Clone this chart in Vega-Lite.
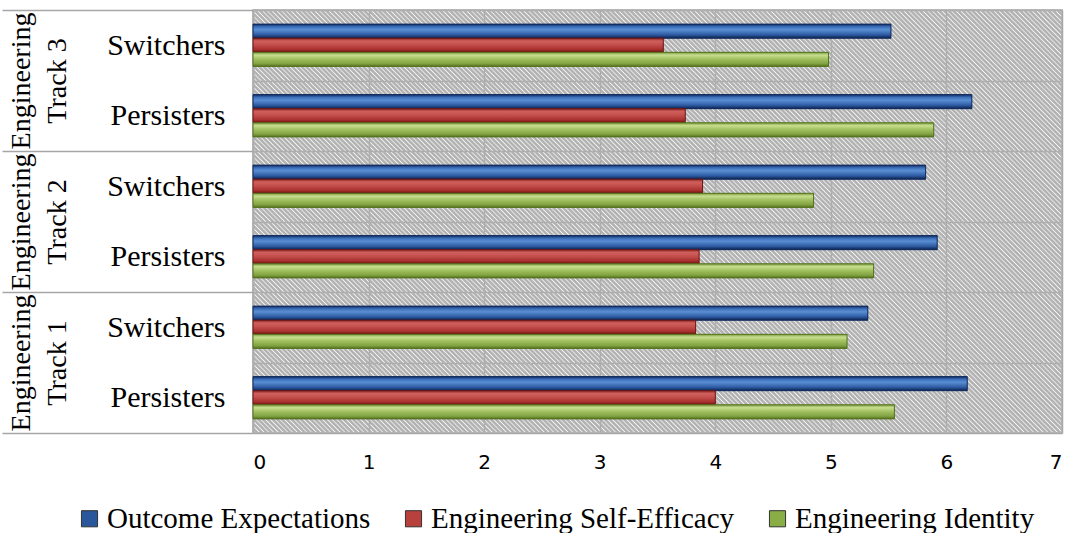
{
  "$schema": "https://vega.github.io/schema/vega-lite/v6.json",
  "width": 809,
  "height": 423,
  "autosize": "none",
  "padding": {"left": 253, "top": 10, "right": 6, "bottom": 100},
  "config": {
    "view": {"stroke": "#a6a6a6", "strokeWidth": 1.5, "fill": "#ffffff"},
    "font": "Liberation Serif"
  },
  "data": {
    "values": [
      {"track": "Engineering Track 3", "group": "Switchers", "cat": "Track 3|Switchers", "measure": "Outcome Expectations", "value": 5.52},
      {"track": "Engineering Track 3", "group": "Switchers", "cat": "Track 3|Switchers", "measure": "Engineering Self-Efficacy", "value": 3.55},
      {"track": "Engineering Track 3", "group": "Switchers", "cat": "Track 3|Switchers", "measure": "Engineering Identity", "value": 4.98},
      {"track": "Engineering Track 3", "group": "Persisters", "cat": "Track 3|Persisters", "measure": "Outcome Expectations", "value": 6.22},
      {"track": "Engineering Track 3", "group": "Persisters", "cat": "Track 3|Persisters", "measure": "Engineering Self-Efficacy", "value": 3.74},
      {"track": "Engineering Track 3", "group": "Persisters", "cat": "Track 3|Persisters", "measure": "Engineering Identity", "value": 5.89},
      {"track": "Engineering Track 2", "group": "Switchers", "cat": "Track 2|Switchers", "measure": "Outcome Expectations", "value": 5.82},
      {"track": "Engineering Track 2", "group": "Switchers", "cat": "Track 2|Switchers", "measure": "Engineering Self-Efficacy", "value": 3.89},
      {"track": "Engineering Track 2", "group": "Switchers", "cat": "Track 2|Switchers", "measure": "Engineering Identity", "value": 4.85},
      {"track": "Engineering Track 2", "group": "Persisters", "cat": "Track 2|Persisters", "measure": "Outcome Expectations", "value": 5.92},
      {"track": "Engineering Track 2", "group": "Persisters", "cat": "Track 2|Persisters", "measure": "Engineering Self-Efficacy", "value": 3.86},
      {"track": "Engineering Track 2", "group": "Persisters", "cat": "Track 2|Persisters", "measure": "Engineering Identity", "value": 5.37},
      {"track": "Engineering Track 1", "group": "Switchers", "cat": "Track 1|Switchers", "measure": "Outcome Expectations", "value": 5.32},
      {"track": "Engineering Track 1", "group": "Switchers", "cat": "Track 1|Switchers", "measure": "Engineering Self-Efficacy", "value": 3.83},
      {"track": "Engineering Track 1", "group": "Switchers", "cat": "Track 1|Switchers", "measure": "Engineering Identity", "value": 5.14},
      {"track": "Engineering Track 1", "group": "Persisters", "cat": "Track 1|Persisters", "measure": "Outcome Expectations", "value": 6.18},
      {"track": "Engineering Track 1", "group": "Persisters", "cat": "Track 1|Persisters", "measure": "Engineering Self-Efficacy", "value": 4.0},
      {"track": "Engineering Track 1", "group": "Persisters", "cat": "Track 1|Persisters", "measure": "Engineering Identity", "value": 5.55}
    ]
  },
  "layer": [
    {
      "mark": {
        "type": "rect",
        "fillOpacity": 0.6,
        "fill": {"gradient": "linear", "x1": 0, "y1": 1, "x2": 1.1397, "y2": 0.80136, "stops": [
          {"offset":0,"color":"#b0b0b0"},{"offset":0.0025,"color":"#b0b0b000"},{"offset":0.005,"color":"#b0b0b0"},{"offset":0.0075,"color":"#b0b0b000"},
          {"offset":0.01,"color":"#b0b0b0"},{"offset":0.0125,"color":"#b0b0b000"},{"offset":0.015,"color":"#b0b0b0"},{"offset":0.0175,"color":"#b0b0b000"},
          {"offset":0.02,"color":"#b0b0b0"},{"offset":0.0225,"color":"#b0b0b000"},{"offset":0.025,"color":"#b0b0b0"},{"offset":0.0275,"color":"#b0b0b000"},
          {"offset":0.03,"color":"#b0b0b0"},{"offset":0.0325,"color":"#b0b0b000"},{"offset":0.035,"color":"#b0b0b0"},{"offset":0.0375,"color":"#b0b0b000"},
          {"offset":0.04,"color":"#b0b0b0"},{"offset":0.0425,"color":"#b0b0b000"},{"offset":0.045,"color":"#b0b0b0"},{"offset":0.0475,"color":"#b0b0b000"},
          {"offset":0.05,"color":"#b0b0b0"},{"offset":0.0525,"color":"#b0b0b000"},{"offset":0.055,"color":"#b0b0b0"},{"offset":0.0575,"color":"#b0b0b000"},
          {"offset":0.06,"color":"#b0b0b0"},{"offset":0.0625,"color":"#b0b0b000"},{"offset":0.065,"color":"#b0b0b0"},{"offset":0.0675,"color":"#b0b0b000"},
          {"offset":0.07,"color":"#b0b0b0"},{"offset":0.0725,"color":"#b0b0b000"},{"offset":0.075,"color":"#b0b0b0"},{"offset":0.0775,"color":"#b0b0b000"},
          {"offset":0.08,"color":"#b0b0b0"},{"offset":0.0825,"color":"#b0b0b000"},{"offset":0.085,"color":"#b0b0b0"},{"offset":0.0875,"color":"#b0b0b000"},
          {"offset":0.09,"color":"#b0b0b0"},{"offset":0.0925,"color":"#b0b0b000"},{"offset":0.095,"color":"#b0b0b0"},{"offset":0.0975,"color":"#b0b0b000"},
          {"offset":0.10,"color":"#b0b0b0"},{"offset":0.1025,"color":"#b0b0b000"},{"offset":0.105,"color":"#b0b0b0"},{"offset":0.1075,"color":"#b0b0b000"},
          {"offset":0.11,"color":"#b0b0b0"},{"offset":0.1125,"color":"#b0b0b000"},{"offset":0.115,"color":"#b0b0b0"},{"offset":0.1175,"color":"#b0b0b000"},
          {"offset":0.12,"color":"#b0b0b0"},{"offset":0.1225,"color":"#b0b0b000"},{"offset":0.125,"color":"#b0b0b0"},{"offset":0.1275,"color":"#b0b0b000"},
          {"offset":0.13,"color":"#b0b0b0"},{"offset":0.1325,"color":"#b0b0b000"},{"offset":0.135,"color":"#b0b0b0"},{"offset":0.1375,"color":"#b0b0b000"},
          {"offset":0.14,"color":"#b0b0b0"},{"offset":0.1425,"color":"#b0b0b000"},{"offset":0.145,"color":"#b0b0b0"},{"offset":0.1475,"color":"#b0b0b000"},
          {"offset":0.15,"color":"#b0b0b0"},{"offset":0.1525,"color":"#b0b0b000"},{"offset":0.155,"color":"#b0b0b0"},{"offset":0.1575,"color":"#b0b0b000"},
          {"offset":0.16,"color":"#b0b0b0"},{"offset":0.1625,"color":"#b0b0b000"},{"offset":0.165,"color":"#b0b0b0"},{"offset":0.1675,"color":"#b0b0b000"},
          {"offset":0.17,"color":"#b0b0b0"},{"offset":0.1725,"color":"#b0b0b000"},{"offset":0.175,"color":"#b0b0b0"},{"offset":0.1775,"color":"#b0b0b000"},
          {"offset":0.18,"color":"#b0b0b0"},{"offset":0.1825,"color":"#b0b0b000"},{"offset":0.185,"color":"#b0b0b0"},{"offset":0.1875,"color":"#b0b0b000"},
          {"offset":0.19,"color":"#b0b0b0"},{"offset":0.1925,"color":"#b0b0b000"},{"offset":0.195,"color":"#b0b0b0"},{"offset":0.1975,"color":"#b0b0b000"},
          {"offset":0.20,"color":"#b0b0b0"},{"offset":0.2025,"color":"#b0b0b000"},{"offset":0.205,"color":"#b0b0b0"},{"offset":0.2075,"color":"#b0b0b000"},
          {"offset":0.21,"color":"#b0b0b0"},{"offset":0.2125,"color":"#b0b0b000"},{"offset":0.215,"color":"#b0b0b0"},{"offset":0.2175,"color":"#b0b0b000"},
          {"offset":0.22,"color":"#b0b0b0"},{"offset":0.2225,"color":"#b0b0b000"},{"offset":0.225,"color":"#b0b0b0"},{"offset":0.2275,"color":"#b0b0b000"},
          {"offset":0.23,"color":"#b0b0b0"},{"offset":0.2325,"color":"#b0b0b000"},{"offset":0.235,"color":"#b0b0b0"},{"offset":0.2375,"color":"#b0b0b000"},
          {"offset":0.24,"color":"#b0b0b0"},{"offset":0.2425,"color":"#b0b0b000"},{"offset":0.245,"color":"#b0b0b0"},{"offset":0.2475,"color":"#b0b0b000"},
          {"offset":0.25,"color":"#b0b0b0"},{"offset":0.2525,"color":"#b0b0b000"},{"offset":0.255,"color":"#b0b0b0"},{"offset":0.2575,"color":"#b0b0b000"},
          {"offset":0.26,"color":"#b0b0b0"},{"offset":0.2625,"color":"#b0b0b000"},{"offset":0.265,"color":"#b0b0b0"},{"offset":0.2675,"color":"#b0b0b000"},
          {"offset":0.27,"color":"#b0b0b0"},{"offset":0.2725,"color":"#b0b0b000"},{"offset":0.275,"color":"#b0b0b0"},{"offset":0.2775,"color":"#b0b0b000"},
          {"offset":0.28,"color":"#b0b0b0"},{"offset":0.2825,"color":"#b0b0b000"},{"offset":0.285,"color":"#b0b0b0"},{"offset":0.2875,"color":"#b0b0b000"},
          {"offset":0.29,"color":"#b0b0b0"},{"offset":0.2925,"color":"#b0b0b000"},{"offset":0.295,"color":"#b0b0b0"},{"offset":0.2975,"color":"#b0b0b000"},
          {"offset":0.30,"color":"#b0b0b0"},{"offset":0.3025,"color":"#b0b0b000"},{"offset":0.305,"color":"#b0b0b0"},{"offset":0.3075,"color":"#b0b0b000"},
          {"offset":0.31,"color":"#b0b0b0"},{"offset":0.3125,"color":"#b0b0b000"},{"offset":0.315,"color":"#b0b0b0"},{"offset":0.3175,"color":"#b0b0b000"},
          {"offset":0.32,"color":"#b0b0b0"},{"offset":0.3225,"color":"#b0b0b000"},{"offset":0.325,"color":"#b0b0b0"},{"offset":0.3275,"color":"#b0b0b000"},
          {"offset":0.33,"color":"#b0b0b0"},{"offset":0.3325,"color":"#b0b0b000"},{"offset":0.335,"color":"#b0b0b0"},{"offset":0.3375,"color":"#b0b0b000"},
          {"offset":0.34,"color":"#b0b0b0"},{"offset":0.3425,"color":"#b0b0b000"},{"offset":0.345,"color":"#b0b0b0"},{"offset":0.3475,"color":"#b0b0b000"},
          {"offset":0.35,"color":"#b0b0b0"},{"offset":0.3525,"color":"#b0b0b000"},{"offset":0.355,"color":"#b0b0b0"},{"offset":0.3575,"color":"#b0b0b000"},
          {"offset":0.36,"color":"#b0b0b0"},{"offset":0.3625,"color":"#b0b0b000"},{"offset":0.365,"color":"#b0b0b0"},{"offset":0.3675,"color":"#b0b0b000"},
          {"offset":0.37,"color":"#b0b0b0"},{"offset":0.3725,"color":"#b0b0b000"},{"offset":0.375,"color":"#b0b0b0"},{"offset":0.3775,"color":"#b0b0b000"},
          {"offset":0.38,"color":"#b0b0b0"},{"offset":0.3825,"color":"#b0b0b000"},{"offset":0.385,"color":"#b0b0b0"},{"offset":0.3875,"color":"#b0b0b000"},
          {"offset":0.39,"color":"#b0b0b0"},{"offset":0.3925,"color":"#b0b0b000"},{"offset":0.395,"color":"#b0b0b0"},{"offset":0.3975,"color":"#b0b0b000"},
          {"offset":0.40,"color":"#b0b0b0"},{"offset":0.4025,"color":"#b0b0b000"},{"offset":0.405,"color":"#b0b0b0"},{"offset":0.4075,"color":"#b0b0b000"},
          {"offset":0.41,"color":"#b0b0b0"},{"offset":0.4125,"color":"#b0b0b000"},{"offset":0.415,"color":"#b0b0b0"},{"offset":0.4175,"color":"#b0b0b000"},
          {"offset":0.42,"color":"#b0b0b0"},{"offset":0.4225,"color":"#b0b0b000"},{"offset":0.425,"color":"#b0b0b0"},{"offset":0.4275,"color":"#b0b0b000"},
          {"offset":0.43,"color":"#b0b0b0"},{"offset":0.4325,"color":"#b0b0b000"},{"offset":0.435,"color":"#b0b0b0"},{"offset":0.4375,"color":"#b0b0b000"},
          {"offset":0.44,"color":"#b0b0b0"},{"offset":0.4425,"color":"#b0b0b000"},{"offset":0.445,"color":"#b0b0b0"},{"offset":0.4475,"color":"#b0b0b000"},
          {"offset":0.45,"color":"#b0b0b0"},{"offset":0.4525,"color":"#b0b0b000"},{"offset":0.455,"color":"#b0b0b0"},{"offset":0.4575,"color":"#b0b0b000"},
          {"offset":0.46,"color":"#b0b0b0"},{"offset":0.4625,"color":"#b0b0b000"},{"offset":0.465,"color":"#b0b0b0"},{"offset":0.4675,"color":"#b0b0b000"},
          {"offset":0.47,"color":"#b0b0b0"},{"offset":0.4725,"color":"#b0b0b000"},{"offset":0.475,"color":"#b0b0b0"},{"offset":0.4775,"color":"#b0b0b000"},
          {"offset":0.48,"color":"#b0b0b0"},{"offset":0.4825,"color":"#b0b0b000"},{"offset":0.485,"color":"#b0b0b0"},{"offset":0.4875,"color":"#b0b0b000"},
          {"offset":0.49,"color":"#b0b0b0"},{"offset":0.4925,"color":"#b0b0b000"},{"offset":0.495,"color":"#b0b0b0"},{"offset":0.4975,"color":"#b0b0b000"},
          {"offset":0.50,"color":"#b0b0b0"},{"offset":0.5025,"color":"#b0b0b000"},{"offset":0.505,"color":"#b0b0b0"},{"offset":0.5075,"color":"#b0b0b000"},
          {"offset":0.51,"color":"#b0b0b0"},{"offset":0.5125,"color":"#b0b0b000"},{"offset":0.515,"color":"#b0b0b0"},{"offset":0.5175,"color":"#b0b0b000"},
          {"offset":0.52,"color":"#b0b0b0"},{"offset":0.5225,"color":"#b0b0b000"},{"offset":0.525,"color":"#b0b0b0"},{"offset":0.5275,"color":"#b0b0b000"},
          {"offset":0.53,"color":"#b0b0b0"},{"offset":0.5325,"color":"#b0b0b000"},{"offset":0.535,"color":"#b0b0b0"},{"offset":0.5375,"color":"#b0b0b000"},
          {"offset":0.54,"color":"#b0b0b0"},{"offset":0.5425,"color":"#b0b0b000"},{"offset":0.545,"color":"#b0b0b0"},{"offset":0.5475,"color":"#b0b0b000"},
          {"offset":0.55,"color":"#b0b0b0"},{"offset":0.5525,"color":"#b0b0b000"},{"offset":0.555,"color":"#b0b0b0"},{"offset":0.5575,"color":"#b0b0b000"},
          {"offset":0.56,"color":"#b0b0b0"},{"offset":0.5625,"color":"#b0b0b000"},{"offset":0.565,"color":"#b0b0b0"},{"offset":0.5675,"color":"#b0b0b000"},
          {"offset":0.57,"color":"#b0b0b0"},{"offset":0.5725,"color":"#b0b0b000"},{"offset":0.575,"color":"#b0b0b0"},{"offset":0.5775,"color":"#b0b0b000"},
          {"offset":0.58,"color":"#b0b0b0"},{"offset":0.5825,"color":"#b0b0b000"},{"offset":0.585,"color":"#b0b0b0"},{"offset":0.5875,"color":"#b0b0b000"},
          {"offset":0.59,"color":"#b0b0b0"},{"offset":0.5925,"color":"#b0b0b000"},{"offset":0.595,"color":"#b0b0b0"},{"offset":0.5975,"color":"#b0b0b000"},
          {"offset":0.60,"color":"#b0b0b0"},{"offset":0.6025,"color":"#b0b0b000"},{"offset":0.605,"color":"#b0b0b0"},{"offset":0.6075,"color":"#b0b0b000"},
          {"offset":0.61,"color":"#b0b0b0"},{"offset":0.6125,"color":"#b0b0b000"},{"offset":0.615,"color":"#b0b0b0"},{"offset":0.6175,"color":"#b0b0b000"},
          {"offset":0.62,"color":"#b0b0b0"},{"offset":0.6225,"color":"#b0b0b000"},{"offset":0.625,"color":"#b0b0b0"},{"offset":0.6275,"color":"#b0b0b000"},
          {"offset":0.63,"color":"#b0b0b0"},{"offset":0.6325,"color":"#b0b0b000"},{"offset":0.635,"color":"#b0b0b0"},{"offset":0.6375,"color":"#b0b0b000"},
          {"offset":0.64,"color":"#b0b0b0"},{"offset":0.6425,"color":"#b0b0b000"},{"offset":0.645,"color":"#b0b0b0"},{"offset":0.6475,"color":"#b0b0b000"},
          {"offset":0.65,"color":"#b0b0b0"},{"offset":0.6525,"color":"#b0b0b000"},{"offset":0.655,"color":"#b0b0b0"},{"offset":0.6575,"color":"#b0b0b000"},
          {"offset":0.66,"color":"#b0b0b0"},{"offset":0.6625,"color":"#b0b0b000"},{"offset":0.665,"color":"#b0b0b0"},{"offset":0.6675,"color":"#b0b0b000"},
          {"offset":0.67,"color":"#b0b0b0"},{"offset":0.6725,"color":"#b0b0b000"},{"offset":0.675,"color":"#b0b0b0"},{"offset":0.6775,"color":"#b0b0b000"},
          {"offset":0.68,"color":"#b0b0b0"},{"offset":0.6825,"color":"#b0b0b000"},{"offset":0.685,"color":"#b0b0b0"},{"offset":0.6875,"color":"#b0b0b000"},
          {"offset":0.69,"color":"#b0b0b0"},{"offset":0.6925,"color":"#b0b0b000"},{"offset":0.695,"color":"#b0b0b0"},{"offset":0.6975,"color":"#b0b0b000"},
          {"offset":0.70,"color":"#b0b0b0"},{"offset":0.7025,"color":"#b0b0b000"},{"offset":0.705,"color":"#b0b0b0"},{"offset":0.7075,"color":"#b0b0b000"},
          {"offset":0.71,"color":"#b0b0b0"},{"offset":0.7125,"color":"#b0b0b000"},{"offset":0.715,"color":"#b0b0b0"},{"offset":0.7175,"color":"#b0b0b000"},
          {"offset":0.72,"color":"#b0b0b0"},{"offset":0.7225,"color":"#b0b0b000"},{"offset":0.725,"color":"#b0b0b0"},{"offset":0.7275,"color":"#b0b0b000"},
          {"offset":0.73,"color":"#b0b0b0"},{"offset":0.7325,"color":"#b0b0b000"},{"offset":0.735,"color":"#b0b0b0"},{"offset":0.7375,"color":"#b0b0b000"},
          {"offset":0.74,"color":"#b0b0b0"},{"offset":0.7425,"color":"#b0b0b000"},{"offset":0.745,"color":"#b0b0b0"},{"offset":0.7475,"color":"#b0b0b000"},
          {"offset":0.75,"color":"#b0b0b0"},{"offset":0.7525,"color":"#b0b0b000"},{"offset":0.755,"color":"#b0b0b0"},{"offset":0.7575,"color":"#b0b0b000"},
          {"offset":0.76,"color":"#b0b0b0"},{"offset":0.7625,"color":"#b0b0b000"},{"offset":0.765,"color":"#b0b0b0"},{"offset":0.7675,"color":"#b0b0b000"},
          {"offset":0.77,"color":"#b0b0b0"},{"offset":0.7725,"color":"#b0b0b000"},{"offset":0.775,"color":"#b0b0b0"},{"offset":0.7775,"color":"#b0b0b000"},
          {"offset":0.78,"color":"#b0b0b0"},{"offset":0.7825,"color":"#b0b0b000"},{"offset":0.785,"color":"#b0b0b0"},{"offset":0.7875,"color":"#b0b0b000"},
          {"offset":0.79,"color":"#b0b0b0"},{"offset":0.7925,"color":"#b0b0b000"},{"offset":0.795,"color":"#b0b0b0"},{"offset":0.7975,"color":"#b0b0b000"},
          {"offset":0.80,"color":"#b0b0b0"},{"offset":0.8025,"color":"#b0b0b000"},{"offset":0.805,"color":"#b0b0b0"},{"offset":0.8075,"color":"#b0b0b000"},
          {"offset":0.81,"color":"#b0b0b0"},{"offset":0.8125,"color":"#b0b0b000"},{"offset":0.815,"color":"#b0b0b0"},{"offset":0.8175,"color":"#b0b0b000"},
          {"offset":0.82,"color":"#b0b0b0"},{"offset":0.8225,"color":"#b0b0b000"},{"offset":0.825,"color":"#b0b0b0"},{"offset":0.8275,"color":"#b0b0b000"},
          {"offset":0.83,"color":"#b0b0b0"},{"offset":0.8325,"color":"#b0b0b000"},{"offset":0.835,"color":"#b0b0b0"},{"offset":0.8375,"color":"#b0b0b000"},
          {"offset":0.84,"color":"#b0b0b0"},{"offset":0.8425,"color":"#b0b0b000"},{"offset":0.845,"color":"#b0b0b0"},{"offset":0.8475,"color":"#b0b0b000"},
          {"offset":0.85,"color":"#b0b0b0"},{"offset":0.8525,"color":"#b0b0b000"},{"offset":0.855,"color":"#b0b0b0"},{"offset":0.8575,"color":"#b0b0b000"},
          {"offset":0.86,"color":"#b0b0b0"},{"offset":0.8625,"color":"#b0b0b000"},{"offset":0.865,"color":"#b0b0b0"},{"offset":0.8675,"color":"#b0b0b000"},
          {"offset":0.87,"color":"#b0b0b0"},{"offset":0.8725,"color":"#b0b0b000"},{"offset":0.875,"color":"#b0b0b0"},{"offset":0.8775,"color":"#b0b0b000"},
          {"offset":0.88,"color":"#b0b0b0"},{"offset":0.8825,"color":"#b0b0b000"},{"offset":0.885,"color":"#b0b0b0"},{"offset":0.8875,"color":"#b0b0b000"},
          {"offset":0.89,"color":"#b0b0b0"},{"offset":0.8925,"color":"#b0b0b000"},{"offset":0.895,"color":"#b0b0b0"},{"offset":0.8975,"color":"#b0b0b000"},
          {"offset":0.90,"color":"#b0b0b0"},{"offset":0.9025,"color":"#b0b0b000"},{"offset":0.905,"color":"#b0b0b0"},{"offset":0.9075,"color":"#b0b0b000"},
          {"offset":0.91,"color":"#b0b0b0"},{"offset":0.9125,"color":"#b0b0b000"},{"offset":0.915,"color":"#b0b0b0"},{"offset":0.9175,"color":"#b0b0b000"},
          {"offset":0.92,"color":"#b0b0b0"},{"offset":0.9225,"color":"#b0b0b000"},{"offset":0.925,"color":"#b0b0b0"},{"offset":0.9275,"color":"#b0b0b000"},
          {"offset":0.93,"color":"#b0b0b0"},{"offset":0.9325,"color":"#b0b0b000"},{"offset":0.935,"color":"#b0b0b0"},{"offset":0.9375,"color":"#b0b0b000"},
          {"offset":0.94,"color":"#b0b0b0"},{"offset":0.9425,"color":"#b0b0b000"},{"offset":0.945,"color":"#b0b0b0"},{"offset":0.9475,"color":"#b0b0b000"},
          {"offset":0.95,"color":"#b0b0b0"},{"offset":0.9525,"color":"#b0b0b000"},{"offset":0.955,"color":"#b0b0b0"},{"offset":0.9575,"color":"#b0b0b000"},
          {"offset":0.96,"color":"#b0b0b0"},{"offset":0.9625,"color":"#b0b0b000"},{"offset":0.965,"color":"#b0b0b0"},{"offset":0.9675,"color":"#b0b0b000"},
          {"offset":0.97,"color":"#b0b0b0"},{"offset":0.9725,"color":"#b0b0b000"},{"offset":0.975,"color":"#b0b0b0"},{"offset":0.9775,"color":"#b0b0b000"},
          {"offset":0.98,"color":"#b0b0b0"},{"offset":0.9825,"color":"#b0b0b000"},{"offset":0.985,"color":"#b0b0b0"},{"offset":0.9875,"color":"#b0b0b000"},
          {"offset":0.99,"color":"#b0b0b0"},{"offset":0.9925,"color":"#b0b0b000"},{"offset":0.995,"color":"#b0b0b0"},{"offset":0.9975,"color":"#b0b0b000"},
          {"offset":1,"color":"#b0b0b0"}
        ]}
      },
      "encoding": {
        "y": {
          "field": "track",
          "type": "nominal",
          "scale": {"domain": ["Engineering Track 3", "Engineering Track 2", "Engineering Track 1"], "paddingInner": 0, "paddingOuter": 0},
          "axis": {
            "orient": "left",
            "title": null,
            "domain": false,
            "grid": false,
            "tickBand": "extent",
            "tickSize": 251,
            "tickColor": "#a6a6a6",
            "tickWidth": 1.5,
            "labelAngle": -90,
            "labelExpr": "datum.label ? ['Engineering', replace(datum.label, 'Engineering ', '')] : ''",
            "labelFont": "Liberation Serif",
            "labelFontSize": 28,
            "labelLineHeight": 36,
            "labelColor": "#000000",
            "labelPadding": -33
          }
        },
        "x": {"datum": 0, "type": "quantitative"},
        "x2": {"datum": 7}
      }
    },
    {
      "encoding": {
        "y": {
          "field": "cat",
          "type": "nominal",
          "scale": {"domain": ["Track 3|Switchers", "Track 3|Persisters", "Track 2|Switchers", "Track 2|Persisters", "Track 1|Switchers", "Track 1|Persisters"], "paddingInner": 0, "paddingOuter": 0},
          "axis": {
            "orient": "left",
            "title": null,
            "ticks": false,
            "domain": true,
            "domainColor": "#a6a6a6",
            "domainWidth": 1.5,
            "grid": true,
            "tickBand": "extent",
            "gridColor": "#a8a8a8",
            "gridWidth": 1.5,
            "labelExpr": "datum.label ? split(datum.label, '|')[1] : ''",
            "labelFont": "Liberation Serif",
            "labelFontSize": 30,
            "labelColor": "#000000",
            "labelPadding": 28
          }
        },
        "yOffset": {
          "field": "measure",
          "type": "nominal",
          "scale": {"domain": ["Outcome Expectations", "Engineering Self-Efficacy", "Engineering Identity"], "paddingInner": 0, "paddingOuter": 1.36}
        },
        "x": {
          "field": "value",
          "type": "quantitative",
          "scale": {"domain": [0, 7], "nice": false},
          "axis": {
            "title": null,
            "values": [0, 1, 2, 3, 4, 5, 6, 7],
            "format": "d",
            "domain": false,
            "ticks": false,
            "grid": true,
            "gridColor": "#a8a8a8",
            "gridWidth": 1.5,
            "labelFont": "DejaVu Sans",
            "labelFontSize": 20,
            "labelColor": "#000000",
            "labelPadding": 19
          }
        }
      },
      "layer": [
        {
          "mark": {"type": "bar"},
          "encoding": {
            "color": {
              "field": "measure",
              "type": "nominal",
              "scale": {
                "domain": ["Outcome Expectations", "Engineering Self-Efficacy", "Engineering Identity"],
                "range": ["#2a569c", "#b8403d", "#8aae46"]
              },
              "legend": {
                "orient": "none",
                "legendX": -178,
                "legendY": 494,
                "direction": "horizontal",
                "title": null,
                "symbolType": "square",
                "symbolSize": 260,
                "symbolStrokeWidth": 1,
                "symbolStrokeColor": "#333333",
                "labelFont": "Liberation Serif",
                "labelFontSize": 29,
                "labelColor": "#000000",
                "labelOffset": 3,
                "labelLimit": 0,
                "columnPadding": 28
              }
            }
          }
        },
        {
          "transform": [{"filter": "datum.measure === 'Outcome Expectations'"}],
          "mark": {
            "type": "bar",
            "stroke": "#102a5c",
            "strokeWidth": 1,
            "fill": {"gradient": "linear", "x1": 0, "y1": 0, "x2": 0, "y2": 1, "stops": [
              {"offset": 0, "color": "#122c64"},
              {"offset": 0.2, "color": "#3c70bb"},
              {"offset": 0.4, "color": "#5a8ed2"},
              {"offset": 0.75, "color": "#2e5ca4"},
              {"offset": 1, "color": "#0c2250"}
            ]}
          }
        },
        {
          "transform": [{"filter": "datum.measure === 'Engineering Self-Efficacy'"}],
          "mark": {
            "type": "bar",
            "stroke": "#6e1614",
            "strokeWidth": 1,
            "fill": {"gradient": "linear", "x1": 0, "y1": 0, "x2": 0, "y2": 1, "stops": [
              {"offset": 0, "color": "#8a2523"},
              {"offset": 0.2, "color": "#d0605d"},
              {"offset": 0.45, "color": "#c4504d"},
              {"offset": 0.8, "color": "#a8302e"},
              {"offset": 1, "color": "#6a1010"}
            ]}
          }
        },
        {
          "transform": [{"filter": "datum.measure === 'Engineering Identity'"}],
          "mark": {
            "type": "bar",
            "stroke": "#55721f",
            "strokeWidth": 1,
            "fill": {"gradient": "linear", "x1": 0, "y1": 0, "x2": 0, "y2": 1, "stops": [
              {"offset": 0, "color": "#7a9a3a"},
              {"offset": 0.2, "color": "#c8de90"},
              {"offset": 0.45, "color": "#a4c363"},
              {"offset": 0.8, "color": "#82a342"},
              {"offset": 1, "color": "#55721f"}
            ]}
          }
        }
      ]
    }
  ],
  "resolve": {"scale": {"y": "independent"}}
}
